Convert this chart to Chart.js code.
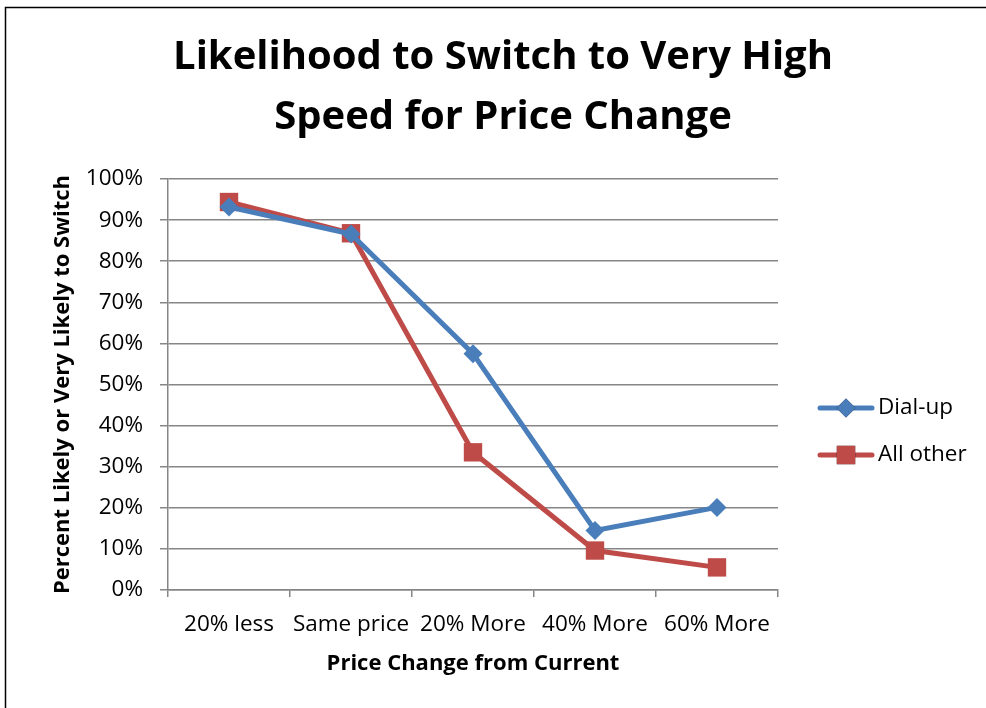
<!DOCTYPE html>
<html>
<head>
<meta charset="utf-8">
<script src="https://cdn.jsdelivr.net/npm/chart.js@4"></script>
<style>
  html, body { margin: 0; padding: 0; background: #fff; }
  #wrap { width: 986px; height: 708px; }
</style>
</head>
<body>
<div id="wrap"><canvas id="switch-plot" width="986" height="708"></canvas></div>
<script>
// values (percent)
const categories = ['20% less', 'Same price', '20% More', '40% More', '60% More'];
const dialUp = [93.2, 86.6, 57.5, 14.5, 20.1];
const allOther = [94.4, 86.8, 33.5, 9.6, 5.5];
const yTicks = [0, 10, 20, 30, 40, 50, 60, 70, 80, 90, 100];
const titleLines = ['Likelihood to Switch to Very High', 'Speed for Price Change'];

const FONT = "'Open Sans', 'DejaVu Sans', sans-serif";
const GRID = '#868686';

// frame, title and legend drawn by hand so they sit where the original has them
const decorations = {
    id: 'decorations',
    afterDraw(chart) {
        const ctx = chart.ctx;
        ctx.save();
        // outer frame
        ctx.strokeStyle = '#000';
        ctx.lineWidth = 1.5;
        ctx.strokeRect(5.5, 7.5, 1100, 1000);

        // title
        ctx.fillStyle = '#000';
        ctx.font = 'bold 40px ' + FONT;
        ctx.textAlign = 'center';
        ctx.textBaseline = 'middle';
        titleLines.forEach((t, i) => ctx.fillText(t, 503, 58 + i * 60));

        // legend
        const rows = [408, 455];
        chart.data.datasets.forEach((ds, i) => {
            const y = rows[i];
            ctx.strokeStyle = ds.borderColor;
            ctx.lineWidth = 5;
            ctx.lineCap = 'round';
            ctx.beginPath();
            ctx.moveTo(820, y);
            ctx.lineTo(872, y);
            ctx.stroke();
            Chart.helpers.drawPoint(ctx, {
                pointStyle: ds.pointStyle,
                radius: ds.pointRadius,
                borderWidth: 0
            }, 846, y);
            ctx.fillStyle = ds.pointBackgroundColor;
            ctx.fill();
            ctx.fillStyle = '#000';
            ctx.font = '22.5px ' + FONT;
            ctx.textAlign = 'left';
            ctx.fillText(ds.label, 878, y);
        });
        ctx.restore();
    }
};

const ctx = document.getElementById('switch-plot').getContext('2d');
new Chart(ctx, {
    type: 'line',
    data: {
        labels: categories,
        datasets: [{
            label: 'Dial-up',
            data: dialUp,
            borderColor: '#4a7ebb',
            backgroundColor: '#4a7ebb',
            pointBackgroundColor: '#4a7ebb',
            pointBorderColor: '#4a7ebb',
            borderWidth: 5,
            pointStyle: 'rectRot',
            pointRadius: 9.5,
            pointBorderWidth: 0,
            fill: false,
            tension: 0
        }, {
            label: 'All other',
            data: allOther,
            borderColor: '#be4b48',
            backgroundColor: '#be4b48',
            pointBackgroundColor: '#be4b48',
            pointBorderColor: '#be4b48',
            borderWidth: 5,
            pointStyle: 'rect',
            pointRadius: 13,
            pointBorderWidth: 0,
            fill: false,
            tension: 0
        }]
    },
    options: {
        responsive: false,
        animation: false,
        layout: { padding: { left: 45, right: 208, top: 179, bottom: 24 } },
        plugins: {
            legend: { display: false },
            tooltip: { enabled: false },
            title: { display: false }
        },
        scales: {
            x: {
                offset: true,
                afterFit(scale) {
                    scale.height = 94;
                    scale.paddingLeft = 0;
                    scale.paddingRight = 0;
                },
                grid: { drawOnChartArea: false, drawTicks: true, tickLength: 7, color: GRID, lineWidth: 1.5, offset: true },
                border: { display: true, color: GRID, width: 1.5 },
                ticks: { color: '#000', font: { family: FONT, size: 22.5 }, padding: 14, maxRotation: 0, autoSkip: false },
                title: {
                    display: true,
                    text: 'Price Change from Current',
                    color: '#000',
                    font: { family: FONT, size: 22, weight: 'bold' },
                    padding: { top: 4, bottom: 7 }
                }
            },
            y: {
                min: 0,
                max: 100,
                afterFit(scale) {
                    scale.width = 123;
                    scale.paddingTop = 0;
                    scale.paddingBottom = 0;
                },
                afterBuildTicks(scale) { scale.ticks = yTicks.map(v => ({ value: v })); },
                grid: { color: GRID, lineWidth: 1.5, tickLength: 8 },
                border: { display: true, color: GRID, width: 1.5 },
                ticks: {
                    color: '#000',
                    font: { family: FONT, size: 22.5 },
                    padding: 17,
                    callback: v => v + '%'
                },
                title: {
                    display: true,
                    text: 'Percent Likely or Very Likely to Switch',
                    color: '#000',
                    font: { family: FONT, size: 22, weight: 'bold' },
                    padding: { top: 5, bottom: 4 }
                }
            }
        }
    },
    plugins: [decorations]
});
</script>
</body>
</html>
